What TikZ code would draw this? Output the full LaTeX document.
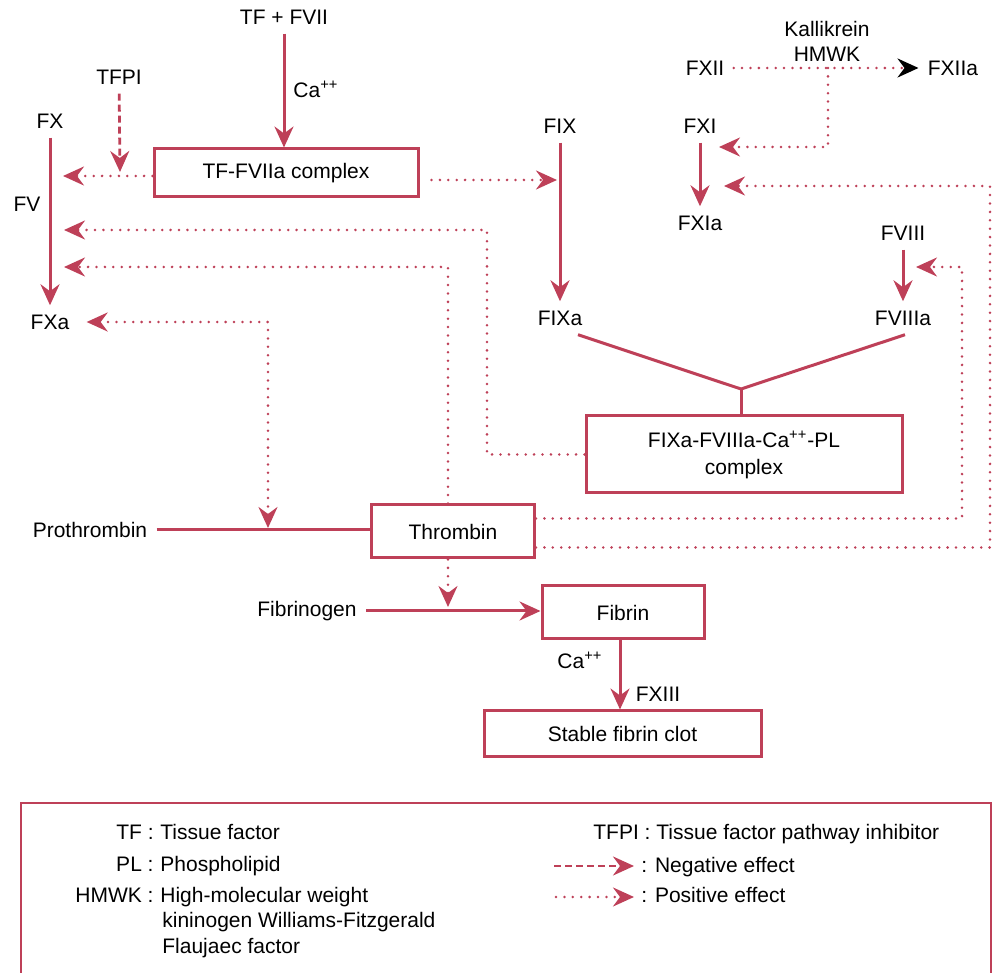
\documentclass[tikz,border=0pt]{standalone}
\usepackage{fontspec}
\setmainfont{Liberation Sans}
\usetikzlibrary{arrows.meta,positioning}
\definecolor{clotred}{RGB}{190,64,88}
\tikzset{
    factor/.style = {
        inner sep=4.5pt,
        },
    rxbox/.style = {
        draw=clotred,
        line width=1.5pt,
        inner sep=0pt,
        align=center,
        },
    conv/.style = {
        draw=clotred,
        line width=1.5pt,
        -{Stealth[length=10.5pt,width=9.5pt,inset=3.5pt]},
        },
    link/.style = {
        draw=clotred,
        line width=1.5pt,
        },
    poseff/.style = {
        draw=clotred,
        line width=1.4pt,
        line cap=round,
        dash pattern=on 0pt off 4.2pt,
        -{Stealth[length=10.5pt,width=9.5pt,inset=3.5pt]},
        },
    negeff/.style = {
        draw=clotred,
        line width=1.4pt,
        dash pattern=on 3.5pt off 2pt,
        -{Stealth[length=10.5pt,width=9.5pt,inset=3.5pt]},
        },
    legend/.style = {
        inner sep=0pt,
        anchor=base west,
        },
}

\begin{document}
\begin{tikzpicture}[
        x=0.5pt, y=-0.5pt,
        every node/.style={font=\fontsize{10.5}{12.5}\selectfont},
        both/.style={{Stealth[length=10.5pt,width=9.5pt,inset=3.5pt]}-{Stealth[length=10.5pt,width=9.5pt,inset=3.5pt]}},
        ]
    \useasboundingbox (0,0) rectangle (993,973);

    % extrinsic side
    \node[factor] (tfvii) at (284,17) {TF + FVII};
    \node[factor] (ca1) at (316,89) {Ca\textsuperscript{++}};
    \node[factor] (tfpi) at (119,77) {TFPI};
    \node[rxbox, minimum width=132pt, minimum height=24pt] (tfcx) at (286,173) {TF-FVIIa complex};
    \node[factor] (fx) at (50,121) {FX};
    \node[factor] (fv) at (27,204) {FV};
    \node[factor] (fxa) at (50,322) {FXa};

    % intrinsic side
    \node[factor] (fix) at (560,126) {FIX};
    \node[factor] (fixa) at (560,318) {FIXa};
    \node[factor] (fxii) at (705,68) {FXII};
    \node[factor] (fxiia) at (953,68) {FXIIa};
    \node[factor, align=center] (kal) at (827,41.5) {Kallikrein\\HMWK};
    \node[factor] (fxi) at (700,126) {FXI};
    \node[factor] (fxia) at (700,223) {FXIa};
    \node[factor] (fviii) at (903,233) {FVIII};
    \node[factor] (fviiia) at (903,318) {FVIIIa};
    \node[rxbox, minimum width=158pt, minimum height=38.5pt, font=\fontsize{10.5}{13.5}\selectfont] (ixcx) at (744,454.5) {FIXa-FVIIIa-Ca\textsuperscript{++}-PL\\complex};

    % common pathway
    \node[factor] (proth) at (90,530) {Prothrombin};
    \node[rxbox, minimum width=81.5pt, minimum height=26.5pt] (thr) at (453,531.5) {Thrombin};
    \node[factor] (fbg) at (307,611) {Fibrinogen};
    \node[rxbox, minimum width=81pt, minimum height=26.5pt] (fib) at (623,612.5) {Fibrin};
    \node[factor] (ca2) at (580,660) {Ca\textsuperscript{++}};
    \node[factor] (fxiii) at (658,694) {FXIII};
    \node[rxbox, minimum width=138.5pt, minimum height=23pt] (clot) at (622.5,734) {Stable fibrin clot};

    \coordinate (tfpiend) at (120,172);
    \coordinate (fxin1) at (63,176);
    \coordinate (fxin2) at (64,230);
    \coordinate (fxin3) at (64,267);
    \coordinate (ixturn) at (487,230);
    \coordinate (fixin) at (557,180);
    \coordinate (kaljoin) at (828,68);
    \coordinate (fxiin1) at (719,147);
    \coordinate (fxiin2) at (724,186);
    \coordinate (xiturn) at (990,186);
    \coordinate (fviiiin) at (916,267);
    \coordinate (viiiturn) at (962,267);
    \coordinate (vjoin) at (741,389);
    \coordinate (prjoin) at (268,528);
    \coordinate (fbgjoin) at (448,607);

    \draw[conv] (tfvii) -- (tfvii |- tfcx.north);
    \draw[negeff] (tfpi) -- (tfpiend);
    \draw[conv] (fx) -- (fxa);
    \draw[poseff] ([yshift=-1.5pt]tfcx.west) -- (fxin1);
    \draw[poseff] ([shift={(6pt,-3.5pt)}]tfcx.east) -- (fixin);
    \draw[conv] (fix) -- (fixa);
    \draw[poseff, -{Stealth[length=10.5pt,width=9.5pt,inset=3.5pt,black]}] (fxii) -- (fxiia);
    \draw[poseff] (kaljoin) |- (fxiin1);
    \draw[conv] (fxi) -- (fxia);
    \draw[conv] (fviii) -- (fviiia);
    \draw[link] ([xshift=9pt]fixa.south) -- (vjoin) -- ([xshift=1pt]fviiia.south);
    \draw[link] (vjoin) -- (vjoin |- ixcx.north);
    \draw[poseff] (ixcx.west) -| (ixturn) -- (fxin2);
    \draw[poseff] ([xshift=-2.5pt]thr.north) |- (fxin3);
    \draw[poseff, both, shorten <=4pt] (fxa) -| (prjoin);
    \draw[link] (proth) -- (proth -| thr.west);
    \draw[poseff] ([yshift=6.5pt]thr.east) -| (viiiturn) -- (fviiiin);
    \draw[poseff] ([yshift=-8pt]thr.east) -| (xiturn) -- (fxiin2);
    \draw[poseff] ([xshift=-2.5pt]thr.south) -- (fbgjoin);
    \draw[conv] (fbg) -- (fbg -| fib.west);
    \draw[conv] ([xshift=-1.5pt]fib.south) -- ([xshift=-1.5pt]fib.south |- clot.north);

    % legend
    \draw[link, line width=1.2pt] (21,990) |- (991,803) -- (991,990);
    \node[legend, anchor=base east] (tfkey) at (154,840) {TF :};
    \node[legend] (tfval) at (160,840) {Tissue factor};
    \node[legend, anchor=base east] (plkey) at (154,872) {PL :};
    \node[legend] (plval) at (160,872) {Phospholipid};
    \node[legend, anchor=base east] (hmkey) at (154,903) {HMWK :};
    \node[legend] (hmval) at (160,903) {High-molecular weight};
    \node[legend] (hmval2) at (162,928) {kininogen Williams-Fitzgerald};
    \node[legend] (hmval3) at (162,954) {Flaujaec factor};
    \node[legend] (tfpikey) at (593,840) {TFPI : Tissue factor pathway inhibitor};
    \coordinate (negfrom) at (554,866);
    \coordinate (negto) at (634,866);
    \draw[negeff] (negfrom) -- (negto);
    \node[legend] (negval) at (641,873) {: Negative effect};
    \coordinate (posfrom) at (556,897);
    \coordinate (posto) at (634,897);
    \draw[poseff] (posfrom) -- (posto);
    \node[legend] (posval) at (641,903) {: Positive effect};
\end{tikzpicture}
\end{document}
